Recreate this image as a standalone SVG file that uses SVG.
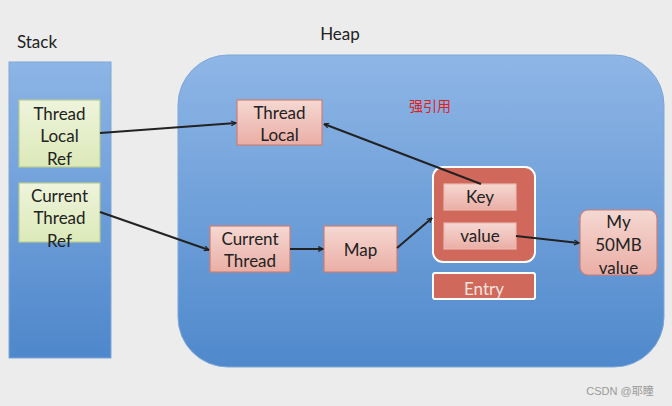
<svg xmlns="http://www.w3.org/2000/svg" width="672" height="406" viewBox="0 0 672 406">
<defs>
<linearGradient id="gStack" x1="0" y1="0" x2="0" y2="1">
<stop offset="0" stop-color="#8db5e6"/><stop offset="1" stop-color="#4e87cb"/>
</linearGradient>
<linearGradient id="gHeap" x1="0" y1="0" x2="0" y2="1">
<stop offset="0" stop-color="#8fb6e6"/><stop offset="1" stop-color="#4f89cc"/>
</linearGradient>
<linearGradient id="gPink" x1="0" y1="0" x2="0" y2="1">
<stop offset="0" stop-color="#f5d8d2"/><stop offset="1" stop-color="#eaaea5"/>
</linearGradient>
<linearGradient id="gGreen" x1="0" y1="0" x2="0" y2="1">
<stop offset="0" stop-color="#eef4dc"/><stop offset="1" stop-color="#dce9b8"/>
</linearGradient>
<marker id="arr" viewBox="0 0 10 10" refX="9" refY="5" markerWidth="6" markerHeight="6" orient="auto" markerUnits="userSpaceOnUse">
<path d="M1,1 L9,5 L1,9" fill="none" stroke="#222" stroke-width="2"/>
</marker>
</defs>
<style>
text{font-family:Lato,"Open Sans","Liberation Sans",sans-serif;font-size:17px;fill:#222;text-anchor:middle}
.green{fill:url(#gGreen);stroke:#b8cc8f;stroke-width:1.2}
.pink{fill:url(#gPink);stroke:#cf7d72;stroke-width:1.2}
.red{fill:#d0695b;stroke:#fff;stroke-width:2}
.conn{stroke:#222;stroke-width:2;fill:none;marker-end:url(#arr)}
</style>
<rect width="672" height="406" fill="#ececec"/>
<text x="37" y="48" style="font-size:17px">Stack</text>
<text x="340" y="40" style="font-size:17px">Heap</text>
<g id="stack"><rect x="9" y="62" width="102" height="296" fill="url(#gStack)" stroke="#7fa6d6" stroke-width="1"/></g>
<g id="heap"><rect x="178" y="55" width="486" height="312" rx="50" fill="url(#gHeap)" stroke="#7ea7d9" stroke-width="1"/></g>
<g id="tlref"><rect class="green" x="19" y="100" width="81" height="67"/>
<text x="59.5" y="120">Thread</text><text x="59.5" y="142">Local</text><text x="59.5" y="165">Ref</text></g>
<g id="ctref"><rect class="green" x="19" y="183" width="81" height="59"/>
<text x="59.5" y="202">Current</text><text x="59.5" y="224">Thread</text><text x="59.5" y="247">Ref</text></g>
<g id="tl"><rect class="pink" x="237" y="100" width="85" height="45"/>
<text x="279.5" y="119">Thread</text><text x="279.5" y="141">Local</text></g>
<g id="ct"><rect class="pink" x="210" y="226" width="80" height="46"/>
<text x="250" y="245">Current</text><text x="250" y="267">Thread</text></g>
<g id="map"><rect class="pink" x="324" y="226" width="73" height="46"/>
<text x="360.5" y="256">Map</text></g>
<g id="entry"><rect class="red" x="433" y="167" width="102" height="95" rx="10"/>
<rect class="pink" x="444" y="184" width="72" height="26" style="stroke:#e9b8b0"/>
<text x="480" y="203">Key</text>
<rect class="pink" x="444" y="223" width="72" height="26" style="stroke:#e9b8b0"/>
<text x="480" y="242">value</text></g>
<g id="entrylabel"><rect class="red" x="433" y="273" width="102" height="26" rx="2"/>
<text x="484" y="295" style="fill:#f6e3df">Entry</text></g>
<g id="val"><rect class="pink" x="580" y="210" width="77" height="65" rx="8"/>
<text x="618.5" y="228">My</text><text x="618.5" y="251">50MB</text><text x="618.5" y="274">value</text></g>
<text x="430" y="111" style="font-family:'Noto Sans CJK SC',sans-serif;font-size:14px;fill:#e0201a">强引用</text>
<g id="connectors">
<path class="conn" d="M100,133 L236,123"/>
<path class="conn" d="M481,184 L324,124"/>
<path class="conn" d="M100,212 L209,250"/>
<path class="conn" d="M290,249 L323,249"/>
<path class="conn" d="M397,248 L432,218"/>
<path class="conn" d="M516,236 L579,243"/>
</g>
<text x="620" y="395" style="font-family:'Liberation Sans','Noto Sans CJK SC',sans-serif;font-size:11px;fill:#9a9a9a">CSDN @耶瞳</text>
</svg>
